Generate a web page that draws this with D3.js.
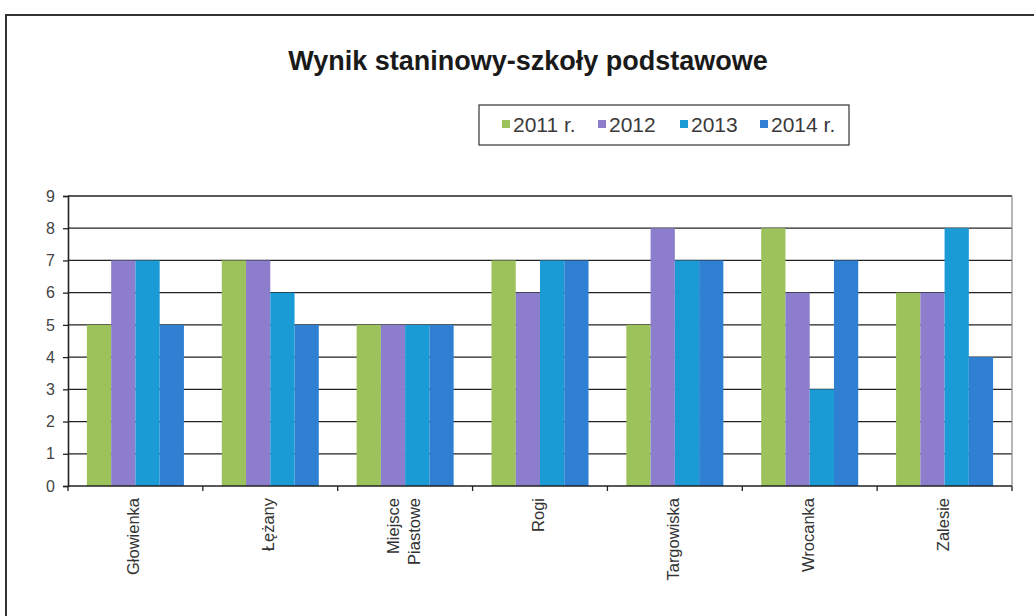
<!DOCTYPE html>
<html>
<head>
<meta charset="utf-8">
<style>
    body { margin: 0; background: #fff; }
    text { font-family: "Liberation Sans", Arial, sans-serif; }
</style>
</head>
<body>
<svg id="chart" width="1034" height="616"></svg>
<script src="https://cdn.jsdelivr.net/npm/d3@7"></script>
<script>
    // data
    const schools = ["Głowienka", "Łężany", "Miejsce Piastowe", "Rogi", "Targowiska", "Wrocanka", "Zalesie"]
    const years = ["2011 r.", "2012", "2013", "2014 r."]
    const v2011 = [5, 7, 5, 7, 5, 8, 6]
    const v2012 = [7, 7, 5, 6, 8, 6, 6]
    const v2013 = [7, 6, 5, 7, 7, 3, 8]
    const v2014 = [5, 5, 5, 7, 7, 7, 4]
    const yTicks = [0, 1, 2, 3, 4, 5, 6, 7, 8, 9]
    const colors = ["#9cc25b", "#8c7ecc", "#1b9bd6", "#2f80d3"]

    const series = [v2011, v2012, v2013, v2014]

    let svg = d3.select("#chart")

    // outer frame (only top and left edges are visible in the scan)
    svg.append("path")
        .attr("d", "M6,616 L6,15 L1034,15")
        .attr("fill", "none")
        .attr("stroke", "#333")
        .attr("stroke-width", 2)

    svg.append("text")
        .attr("x", 528).attr("y", 70)
        .attr("text-anchor", "middle")
        .style("font-size", "27px")
        .style("font-weight", "bold")
        .attr("fill", "#1a1a1a")
        .text("Wynik staninowy-szkoły podstawowe")

    // legend
    let legend = svg.append("g")
    legend.append("rect")
        .attr("x", 479).attr("y", 105).attr("width", 370).attr("height", 40)
        .attr("fill", "#fff").attr("stroke", "#333").attr("stroke-width", 1.2)
    let legendX = [502, 598, 680, 760]
    years.forEach((yr, i) => {
        legend.append("rect")
            .attr("x", legendX[i]).attr("y", 120).attr("width", 8).attr("height", 8)
            .attr("fill", colors[i])
        legend.append("text")
            .attr("x", legendX[i] + 11).attr("y", 132)
            .style("font-size", "21px")
            .attr("fill", "#3a3a3a")
            .text(yr)
    })

    // plot area
    let pLeft = 68, pRight = 1012, pTop = 196, pBottom = 486

    let y = d3.scaleLinear().domain([0, 9]).range([pBottom, pTop])
    let x0 = d3.scaleBand().domain(schools).range([pLeft, pRight])
    let x1 = d3.scaleBand().domain(years).range([0, x0.bandwidth()]).paddingOuter(0.78)

    // grid lines
    svg.append("g").selectAll("line")
        .data(yTicks.slice(1))
        .join("line")
        .attr("x1", pLeft).attr("x2", pRight)
        .attr("y1", d => y(d)).attr("y2", d => y(d))
        .attr("stroke", "#222").attr("stroke-width", 1.3)

    // right border of plot
    svg.append("line")
        .attr("x1", pRight).attr("x2", pRight).attr("y1", pTop).attr("y2", pBottom)
        .attr("stroke", "#888").attr("stroke-width", 1.2)

    // bars
    let groups = svg.append("g").selectAll("g")
        .data(schools)
        .join("g")
        .attr("transform", d => "translate(" + x0(d) + ",0)")

    groups.selectAll("rect")
        .data((d, i) => years.map((yr, j) => ({ yr: yr, v: series[j][i], c: colors[j] })))
        .join("rect")
        .attr("x", d => x1(d.yr))
        .attr("width", x1.bandwidth())
        .attr("y", d => y(d.v))
        .attr("height", d => pBottom - y(d.v))
        .attr("fill", d => d.c)

    // y axis
    let yAxis = d3.axisLeft(y).tickValues(yTicks).tickSize(5).tickPadding(8)
    let ya = svg.append("g")
        .attr("transform", "translate(" + pLeft + ",0)")
        .call(yAxis)
    ya.select(".domain").attr("stroke", "#222").attr("stroke-width", 1.6)
    ya.selectAll(".tick line").attr("stroke", "#222").attr("stroke-width", 1.3)
    ya.selectAll(".tick text")
        .style("font-size", "16px")
        .style("font-family", "'Liberation Sans', Arial, sans-serif")
        .attr("fill", "#444")

    // x axis: ticks between categories
    let bounds = schools.map(s => x0(s)).concat([pRight])
    let xa = svg.append("g")
    xa.append("line")
        .attr("x1", pLeft).attr("x2", pRight).attr("y1", pBottom).attr("y2", pBottom)
        .attr("stroke", "#222").attr("stroke-width", 1.6)
    xa.selectAll(".xt")
        .data(bounds)
        .join("line")
        .attr("class", "xt")
        .attr("x1", d => d).attr("x2", d => d)
        .attr("y1", pBottom).attr("y2", pBottom + 5)
        .attr("stroke", "#222").attr("stroke-width", 1.3)

    // rotated category labels
    schools.forEach(s => {
        let cx = x0(s) + x0.bandwidth() / 2
        let lines = s === "Miejsce Piastowe" ? ["Miejsce", "Piastowe"] : [s]
        lines.forEach((ln, k) => {
            let lx = cx + (k - (lines.length - 1) / 2) * 21 + 4
            svg.append("text")
                .attr("transform", "translate(" + lx + "," + (pBottom + 12) + ") rotate(-90)")
                .attr("text-anchor", "end")
                .style("font-size", "16.5px")
                .attr("fill", "#333")
                .text(ln)
        })
    })
</script>
</body>
</html>
